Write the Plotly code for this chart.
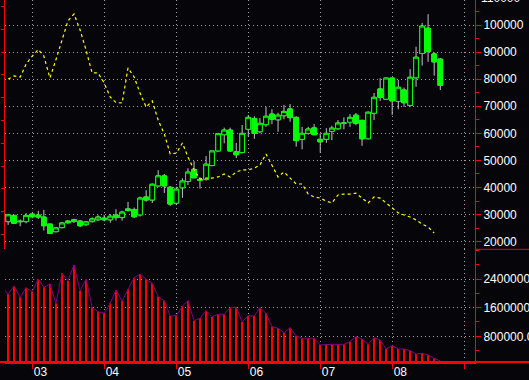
import pandas as pd
import plotly.graph_objects as go

# ---------------- data ----------------
months = pd.date_range("2002-09-01", periods=73, freq="MS")
vol_months = pd.date_range("2002-08-01", periods=74, freq="MS")

open_ = [27400, 29700, 27600, 27400, 30200, 29800, 29100, 26500, 23700, 25200,
         27600, 28100, 27600, 26300, 27400, 28100, 28700, 28100, 29800, 28900,
         32100, 31900, 29900, 36500, 35400, 40600, 44300, 40100, 34200, 39900,
         42200, 46700, 43000, 43000, 48100, 53500, 59500, 61200, 53200, 52900,
         61500, 65500, 60600, 63200, 67100, 65000, 66500, 69000, 65900, 57800,
         60000, 62000, 57800, 57800, 60700, 61700, 63700, 64100, 66700, 64800,
         58000, 67400, 76400, 72600, 80400, 71800, 76000, 70300, 80500, 89500,
         98800, 89300, 87400]
close = [29900, 26800, 27400, 29700, 29200, 29100, 25900, 23100, 25100, 26900,
         27000, 27500, 25900, 27300, 28400, 29100, 28100, 29400, 28900, 30900,
         31500, 29200, 36100, 35400, 41200, 44300, 40600, 33900, 39400, 42400,
         45700, 43600, 42700, 48600, 53500, 59900, 61200, 53500, 52100, 60000,
         65900, 60000, 63700, 66300, 65200, 66700, 68100, 65800, 57300, 60000,
         61600, 59500, 56900, 60000, 61900, 63800, 63800, 65900, 63700, 58000,
         67800, 73300, 73300, 80400, 72000, 77000, 71300, 80700, 88100, 99600,
         90200, 86400, 77700]
high = [30300, 30000, 28200, 30500, 30700, 31400, 31700, 26600, 25300, 27200,
        28000, 28500, 28000, 27600, 29000, 29800, 29900, 30200, 32000, 31400,
        34700, 32600, 36600, 39000, 41500, 46400, 45000, 40500, 40300, 43400,
        47100, 49800, 43800, 51600, 53500, 60200, 62100, 62100, 56500, 63100,
        66800, 66300, 65600, 69800, 68900, 67600, 70500, 70800, 66300, 62400,
        62400, 63400, 60000, 61900, 62800, 64900, 65900, 67100, 67500, 65000,
        68000, 74900, 80400, 80600, 80600, 79700, 76900, 83700, 92000, 100800,
        104000, 89900, 87700]
low = [26200, 26600, 25700, 26800, 28600, 28400, 24100, 22900, 23500, 24900,
       26600, 26900, 25400, 25800, 27100, 27600, 27500, 27000, 27800, 27800,
       31100, 28800, 29300, 34800, 34300, 40300, 38000, 33200, 33500, 36200,
       40900, 43400, 39600, 42500, 47900, 53300, 56300, 53200, 50900, 52600,
       58800, 58000, 60000, 62400, 63400, 60600, 65200, 64300, 55100, 54100,
       59500, 59300, 52900, 56500, 57500, 61300, 61500, 62400, 63000, 55400,
       57800, 64900, 72000, 72300, 66800, 68900, 69800, 69800, 77200, 85000,
       86400, 81300, 76000]

volume = [2185000, 1973000, 2204000, 1889000, 2157000, 2045000, 2400000, 2168000, 2260000, 1721000,
          2559000, 2352000, 2791000, 2073000, 2400000, 1610000, 1487000, 1442000, 1721000, 2093000,
          1786000, 2112000, 2436000, 2540000, 2392000, 2280000, 1906000, 1794000, 1367000, 1375000,
          1646000, 1794000, 1236000, 1303000, 1515000, 1347000, 1414000, 1414000, 1599000, 1610000,
          1208000, 1375000, 1367000, 1599000, 1442000, 1068000, 1023000, 900000, 1040000, 808000,
          744000, 744000, 744000, 557000, 577000, 577000, 577000, 577000, 649000, 789000,
          725000, 577000, 761000, 697000, 445000, 537000, 445000, 445000, 398000, 306000,
          325000, 278000, 186000, 110000]

indicator = [78.2, 79.6, 79.1, 84.8, 88.3, 91.2, 88.3, 78.7, 86.6, 95.4,
             103.7, 106.8, 99.8, 91.0, 80.9, 80.9, 76.5, 70.3, 67.9, 67.7,
             83.1, 79.1, 72.1, 65.9, 68.6, 60.2, 54.1, 45.3, 45.7, 50.1,
             44.0, 38.3, 34.3, 34.7, 34.7, 35.2, 36.5, 35.2, 37.4, 38.3,
             38.3, 39.1, 40.4, 45.3, 40.4, 35.2, 37.4, 34.7, 32.1, 32.1,
             27.7, 26.4, 25.9, 24.6, 23.8, 27.3, 27.7, 27.7, 28.1, 25.9,
             23.8, 26.4, 25.9, 23.8, 21.6, 19.4, 18.5, 17.6, 16.3, 14.5,
             13.2, 10.6]

year_ticks = ["2003-01-01", "2004-01-01", "2005-01-01", "2006-01-01",
              "2007-01-01", "2008-01-01", "2009-01-01"]
year_labels = ["03", "04", "05", "06", "07", "08", ""]
price_ticks = [20000, 30000, 40000, 50000, 60000, 70000, 80000, 90000, 100000]
price_labels = [str(v) for v in price_ticks]
price_top_tick = 110000
vol_ticks = [800000, 1600000, 2400000]
vol_labels = ["800000.0", "1600000.0", "2400000.0"]

# ---------------- style ----------------
BG = "#05050a"
GRID = "#a0a0a0"
RED = "#ff0000"
GREEN = "#00ff00"
WICK = "#c4c4c4"
FONT = "Liberation Sans, Arial, sans-serif"

price_range = [17190, 109230]
vol_range = [82400, 3229300]
split = 0.3113

fig = go.Figure()

# wicks (grey)
fig.add_trace(go.Candlestick(
    x=months, open=open_, high=high, low=low, close=close,
    increasing=dict(line=dict(color=WICK, width=1), fillcolor=BG),
    decreasing=dict(line=dict(color=WICK, width=1), fillcolor=BG),
    whiskerwidth=0, xaxis="x", yaxis="y", showlegend=False, hoverinfo="skip"))

# bodies (green)
body_hi = [max(o, c) for o, c in zip(open_, close)]
body_lo = [min(o, c) for o, c in zip(open_, close)]
fig.add_trace(go.Candlestick(
    x=months, open=open_, high=body_hi, low=body_lo, close=close,
    increasing=dict(line=dict(color=GREEN, width=1), fillcolor=BG),
    decreasing=dict(line=dict(color=GREEN, width=1), fillcolor=GREEN),
    whiskerwidth=0, xaxis="x", yaxis="y", showlegend=False, hoverinfo="skip"))

fig.add_trace(go.Scatter(
    x=months[:len(indicator)], y=indicator, mode="lines", xaxis="x", yaxis="y3",
    line=dict(color="#ffff00", width=1.2, dash="3px,3px"), showlegend=False))

fig.add_trace(go.Bar(
    x=vol_months, y=volume, xaxis="x", yaxis="y2", width=5.2 * 86400000,
    marker=dict(color=RED, line=dict(width=0)), showlegend=False))

fig.add_trace(go.Scatter(
    x=vol_months, y=volume, mode="lines", xaxis="x", yaxis="y2",
    line=dict(color="#800080", width=1), showlegend=False))

tickfont = dict(color="#ffffff", size=12, family=FONT)

fig.update_layout(
    width=529, height=380,
    margin=dict(l=5, r=54, t=0, b=18, autoexpand=False),
    paper_bgcolor=BG, plot_bgcolor=BG,
    boxgap=0.15, boxgroupgap=0,
    showlegend=False,
    xaxis=dict(
        type="date", domain=[0, 1], anchor="y2",
        range=["2002-08-16", "2009-02-24"],
        tickmode="array", tickvals=year_ticks, ticktext=year_labels,
        ticks="outside", ticklen=5, tickcolor=RED, tickwidth=1,
        ticklabelposition="outside right", ticklabelstandoff=-2,
        showline=True, linecolor=RED, linewidth=2,
        showgrid=True, gridcolor=GRID, gridwidth=1, griddash="1px,3px",
        zeroline=False, tickfont=tickfont, automargin=False,
        rangeslider=dict(visible=False)),
    yaxis=dict(
        domain=[split, 1], anchor="x", side="right", range=price_range,
        tickmode="array", tickvals=price_ticks, ticktext=price_labels,
        ticks="outside", ticklen=5, tickcolor=RED, ticklabelstandoff=0,
        ticklabeloverflow="allow", automargin=False,
        minor=dict(tickmode="linear", tick0=0, dtick=5000, ticks="outside",
                   ticklen=3, tickcolor=RED, showgrid=False),
        showline=True, linecolor=RED, linewidth=1,
        showgrid=True, gridcolor=GRID, gridwidth=1, griddash="1px,3px",
        zeroline=False, tickfont=tickfont),
    yaxis2=dict(
        domain=[0, split], anchor="x", side="right", range=vol_range,
        tickmode="array", tickvals=vol_ticks, ticktext=vol_labels,
        ticks="outside", ticklen=5, tickcolor=RED, ticklabelstandoff=0,
        ticklabeloverflow="allow", automargin=False,
        minor=dict(tickmode="linear", tick0=0, dtick=400000, ticks="outside",
                   ticklen=3, tickcolor=RED, showgrid=False),
        showline=True, linecolor=RED, linewidth=1,
        showgrid=True, gridcolor=GRID, gridwidth=1, griddash="1px,3px",
        zeroline=False, tickfont=tickfont),
    yaxis3=dict(
        overlaying="y", anchor="x", side="left", range=[3.41, 112.95],
        tickmode="linear", tick0=0, dtick=10, ticks="outside", ticklen=3,
        tickcolor=RED, showticklabels=False, showgrid=False, zeroline=False,
        showline=True, linecolor=RED, linewidth=1),
    yaxis4=dict(
        overlaying="y2", anchor="x", side="left", range=[-0.506, 14.91],
        tickmode="linear", tick0=0, dtick=1, ticks="outside", ticklen=3,
        tickcolor=RED, showticklabels=False, showgrid=False, zeroline=False,
        showline=True, linecolor=RED, linewidth=1),
)

# partially visible top label of the price axis
top_frac = split + (price_top_tick - price_range[0]) / (price_range[1] - price_range[0]) * (1 - split)
fig.add_annotation(text=str(price_top_tick), xref="paper", yref="paper", x=1, y=top_frac,
                   xanchor="left", yanchor="middle", xshift=4, showarrow=False, font=tickfont)

# pane separator on the axis strip and full-width baseline
fig.add_shape(type="line", xref="paper", yref="paper", x0=1, x1=1.2, y0=split, y1=split,
              line=dict(color=RED, width=1))
fig.add_shape(type="line", xref="paper", yref="paper", x0=-0.02, x1=1.2, y0=0, y1=0,
              line=dict(color=RED, width=2))

fig.write_html("out.html")
